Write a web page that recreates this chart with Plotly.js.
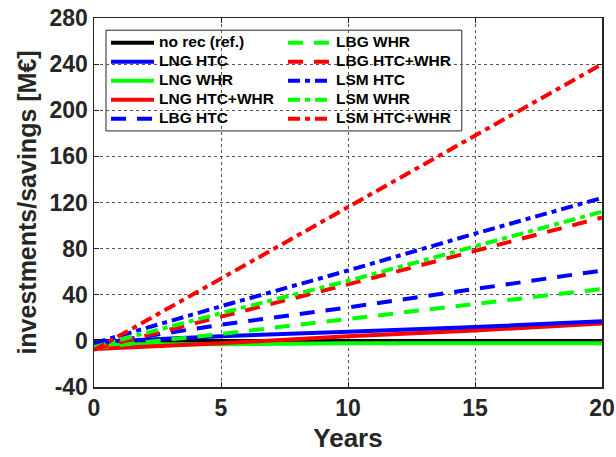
<!DOCTYPE html>
<html>
<head>
<meta charset="utf-8">
<script src="https://cdn.plot.ly/plotly-3.0.1.min.js"></script>
<style>html,body{margin:0;padding:0;background:#fff;}#chart{width:616px;height:457px;}</style>
</head>
<body>
<div id="chart"></div>
<script>
// Data
const years = [0, 5, 10, 15, 20];
const seriesNames = ["no rec (ref.)", "LNG HTC", "LNG WHR", "LNG HTC+WHR", "LBG HTC",
                     "LBG WHR", "LBG HTC+WHR", "LSM HTC", "LSM WHR", "LSM HTC+WHR"];
const noRec      = [0, 0, 0, 0, 0];
const lngHTC     = [-1, 4, 8, 12, 17];
const lngWHR     = [-3, -3, -2, -2, -2];
const lngHTCWHR  = [-7, -2, 4, 9, 15];
const lbgHTC     = [-3, 14, 29, 45, 61];
const lbgWHR     = [-6, 6, 19, 32, 45];
const lbgHTCWHR  = [-7, 21, 49, 78, 107];
const lsmHTC     = [-2, 30, 61, 93, 124];
const lsmWHR     = [-5, 24, 52, 82, 112];
const lsmHTCWHR  = [-8, 54, 116, 178, 240];
const yTicks = [-40, 0, 40, 80, 120, 160, 200, 240, 280];
const xTicks = [0, 5, 10, 15, 20];

const values = [noRec, lngHTC, lngWHR, lngHTCWHR, lbgHTC, lbgWHR, lbgHTCWHR, lsmHTC, lsmWHR, lsmHTCWHR];
const colors = ["#000000", "#0000ff", "#00ff00", "#ff0000", "#0000ff", "#00ff00", "#ff0000", "#0000ff", "#00ff00", "#ff0000"];
const DASH = "15px,11px";
const DASHDOT = "12px,5px,5px,5px";
const dashes = ["solid", "solid", "solid", "solid", DASH, DASH, DASH, DASHDOT, DASHDOT, DASHDOT];
// draw order so that overlapping lines match the reference
const order = [0, 2, 3, 1, 5, 4, 6, 8, 7, 9];

const traces = order.map(i => ({
  x: years, y: values[i],
  name: '<span style="font-size:15.5px">' + seriesNames[i] + '</span>',
  type: "scatter", mode: "lines",
  line: {color: colors[i], width: 4, dash: dashes[i]},
  legend: i < 5 ? "legend" : "legend2",
  legendrank: i
}));

const fam = "Liberation Sans, Arial, sans-serif";
const legendCommon = {
  bgcolor: "rgba(0,0,0,0)", borderwidth: 0, itemwidth: 43, tracegroupgap: 0,
  font: {family: fam, size: 12.3, color: "#000", weight: "bold"},
  yanchor: "top", xanchor: "left", traceorder: "normal"
};

const layout = {
  width: 616, height: 457,
  margin: {l: 94, r: 14, t: 18, b: 70},
  paper_bgcolor: "#fff", plot_bgcolor: "#fff",
  font: {family: fam, color: "#262626"},
  showlegend: true,
  xaxis: {
    range: [0, 20], tickvals: xTicks, ticktext: xTicks.map(String),
    showgrid: true, gridcolor: "#555", griddash: "dot", gridwidth: 1,
    zeroline: false, showline: true, linecolor: "#262626", linewidth: 1.5, mirror: "ticks",
    ticks: "inside", ticklen: 5, tickcolor: "#262626",
    tickfont: {size: 23, weight: "bold", color: "#262626", family: fam},
    title: {text: "Years", font: {size: 26, weight: "bold", color: "#262626", family: fam}, standoff: 8}
  },
  yaxis: {
    range: [-40, 280], tickvals: yTicks, ticktext: yTicks.map(String),
    showgrid: true, gridcolor: "#555", griddash: "dot", gridwidth: 1,
    zeroline: false, showline: true, linecolor: "#262626", linewidth: 1.5, mirror: "ticks",
    ticks: "inside", ticklen: 5, tickcolor: "#262626",
    tickfont: {size: 23, weight: "bold", color: "#262626", family: fam},
    title: {text: "investments/savings [M€]", font: {size: 25, weight: "bold", color: "#262626", family: fam}, standoff: 6}
  },
  legend: Object.assign({}, legendCommon, {x: 0.0236, y: 0.9725}),
  legend2: Object.assign({}, legendCommon, {x: 0.372, y: 0.9725}),
  shapes: [{
    type: "rect", xref: "paper", yref: "paper",
    x0: 0.0236, x1: 0.724, y0: 0.694, y1: 0.967,
    fillcolor: "#fff", line: {color: "#262626", width: 1}, layer: "between"
  }]
};

Plotly.newPlot("chart", traces, layout, {displayModeBar: false, staticPlot: true});
</script>
</body>
</html>
